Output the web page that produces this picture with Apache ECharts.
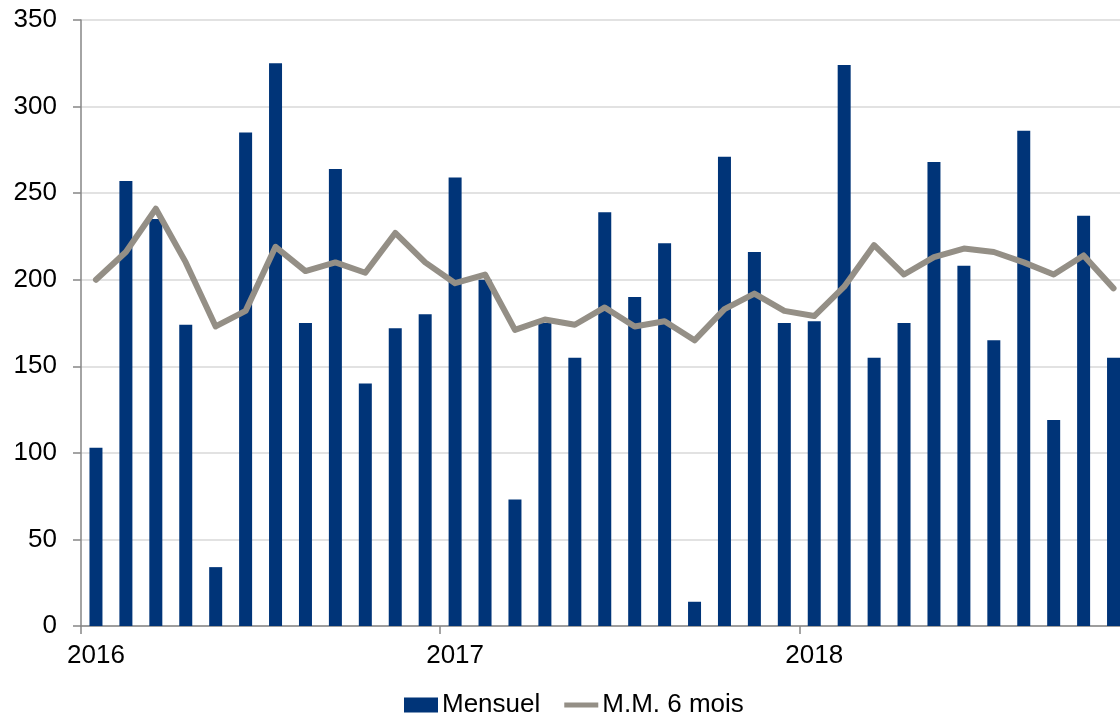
<!DOCTYPE html>
<html>
<head>
<meta charset="utf-8">
<script src="https://cdn.jsdelivr.net/npm/echarts@6/dist/echarts.min.js"></script>
<style>
html,body{margin:0;padding:0;background:#fff;overflow:hidden;width:1120px;height:713px;}
#c{width:1160px;height:713px;}
</style>
</head>
<body>
<div id="c"></div>
<script>
// Months Jan 2016 .. Nov 2018
const categories = [
  '2016-01','2016-02','2016-03','2016-04','2016-05','2016-06','2016-07','2016-08','2016-09','2016-10','2016-11','2016-12',
  '2017-01','2017-02','2017-03','2017-04','2017-05','2017-06','2017-07','2017-08','2017-09','2017-10','2017-11','2017-12',
  '2018-01','2018-02','2018-03','2018-04','2018-05','2018-06','2018-07','2018-08','2018-09','2018-10','2018-11'
];
const mensuel = [
  103,257,235,174,34,285,325,175,264,140,172,180,
  259,200,73,175,155,239,190,221,14,271,216,175,
  176,324,155,175,268,208,165,286,119,237,155
];
const mm6 = [
  200,216,241,210,173,182,219,205,210,204,227,210,
  198,203,171,177,174,184,173,176,165,183,192,182,
  179,196,220,203,213,218,216,210,203,214,195
];
const yTicks = [0,50,100,150,200,250,300,350];

const chart = echarts.init(document.getElementById('c'), null, {renderer:'canvas'});
const font = 'Liberation Sans, Arial, sans-serif';
chart.setOption({
  animation: false,
  backgroundColor: '#ffffff',
  grid: {left: 81, top: 20, bottom: 87, width: 1047.5, containLabel: false},
  legend: {
    left: 404, top: 692, padding: 0,
    itemWidth: 34, itemHeight: 15, itemGap: 24,
    textStyle: {fontFamily: font, fontSize: 26, color: '#000', padding: [0, 0, 0, -1]},
    data: [
      {name: 'Mensuel', icon: 'rect'},
      {name: 'M.M. 6 mois', icon: 'path://M0,0 L0,0 M34,15 L34,15 M0,5 L34,5 L34,10 L0,10 Z',
       itemStyle: {color: '#948f86', borderWidth: 0}}
    ]
  },
  xAxis: {
    type: 'category',
    data: categories,
    boundaryGap: true,
    axisLine: {show: true, lineStyle: {color: '#868686', width: 1.5}},
    axisTick: {show: true, length: 8, interval: (i) => i % 12 === 0, alignWithLabel: false, lineStyle: {color: '#868686', width: 1.5}},
    axisLabel: {
      interval: (i) => i % 12 === 0,
      formatter: (v) => v.slice(0, 4),
      fontFamily: font, fontSize: 26, color: '#000', margin: 17
    },
    splitLine: {show: false}
  },
  yAxis: {
    type: 'value',
    min: yTicks[0], max: yTicks[yTicks.length - 1], interval: 50,
    axisLine: {show: true, lineStyle: {color: '#868686', width: 1.5}},
    axisTick: {show: true, length: 8, lineStyle: {color: '#868686', width: 1.5}},
    axisLabel: {fontFamily: font, fontSize: 26, color: '#000', margin: 24},
    splitLine: {show: true, lineStyle: {color: '#d9d9d9', width: 1.5}}
  },
  series: [
    {
      name: 'Mensuel', type: 'bar', data: mensuel, barWidth: 13,
      itemStyle: {color: '#003478'}, z: 2
    },
    {
      name: 'M.M. 6 mois', type: 'line', data: mm6, showSymbol: false, symbol: 'none',
      lineStyle: {color: '#948f86', width: 6, cap: 'round', join: 'round'},
      itemStyle: {color: '#948f86'}, z: 3
    }
  ]
});
</script>
</body>
</html>
